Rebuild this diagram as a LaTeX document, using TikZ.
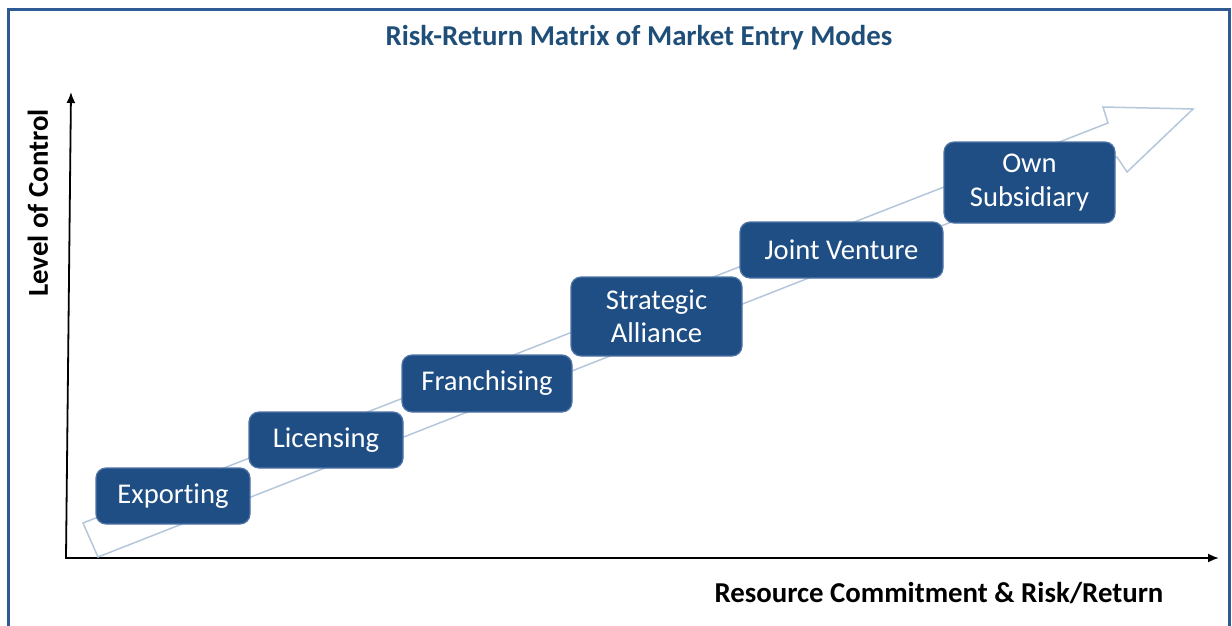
\documentclass[tikz,border=0pt]{standalone}
\usepackage{fontspec}
\setmainfont[Ligatures=NoCommon]{Carlito}
\usetikzlibrary{arrows.meta}
\definecolor{framecol}{HTML}{2F5A93}
\definecolor{boxfill}{HTML}{1F4E85}
\definecolor{boxedge}{HTML}{4F74A6}
\definecolor{titlecol}{HTML}{1F4E79}
\definecolor{trendcol}{HTML}{B5C7DB}
\tikzset{
  modebox/.style={draw=boxedge, line width=1.2pt, fill=boxfill, rounded corners=10pt,
    text=white, align=center, inner sep=0pt, font=\fontsize{28.6}{33.5}\selectfont},
  axisline/.style={line width=1.8pt, -{Latex[length=11pt,width=9pt]}},
  axislabel/.style={font=\fontsize{28.8}{32}\selectfont\bfseries, text=black},
}
\begin{document}
\begin{tikzpicture}[x=1pt, y=-1pt]
  \useasboundingbox (0,0) rectangle (1232,626);
  \begin{scope}
    \clip (0,0) rectangle (1232,626);
    % outer frame, open at the bottom edge
    \draw[framecol, line width=3pt] (8.5,9.5) rectangle (1229.5,700);
  \end{scope}

  % title
  \node[font=\fontsize{28.8}{32}\selectfont\bfseries, text=titlecol] (title) at (639,38)
    {Risk-Return Matrix of Market Entry Modes};

  % axes
  \coordinate (origin) at (66,558);
  \coordinate (ytop) at (71,92);
  \coordinate (xend) at (1219,558);
  \draw[axisline] (origin) -- (ytop);
  \draw[axisline] ([xshift=-1pt]origin) -- (xend);
  \node[axislabel, rotate=90] (ylab) at (38,203) {Level of Control};
  \node[axislabel] (xlab) at (939,593) {Resource Commitment \& Risk/Return};

  % hollow trend arrow behind the boxes
  \draw[trendcol, line width=1.5pt, line join=miter]
    (83,523) -- (1108,123) -- (1103,107) -- (1193,109) -- (1127,172)
    -- (1117,157) -- (98,557) -- cycle;

  % entry modes
  \node[modebox, minimum width=154pt, minimum height=56pt] (exp) at (173,496) {Exporting};
  \node[modebox, minimum width=154pt, minimum height=56pt] (lic) at (326,440) {Licensing};
  \node[modebox, minimum width=170pt, minimum height=57pt] (fra) at (487,383.5) {Franchising};
  \node[modebox, minimum width=171pt, minimum height=79pt] (sta) at (656.5,316.5) {Strategic\\Alliance};
  \node[modebox, minimum width=203pt, minimum height=56pt] (jv) at (841.5,250) {Joint Venture};
  \node[modebox, minimum width=171pt, minimum height=81pt] (own) at (1029.5,182.5) {Own\\Subsidiary};
\end{tikzpicture}
\end{document}
